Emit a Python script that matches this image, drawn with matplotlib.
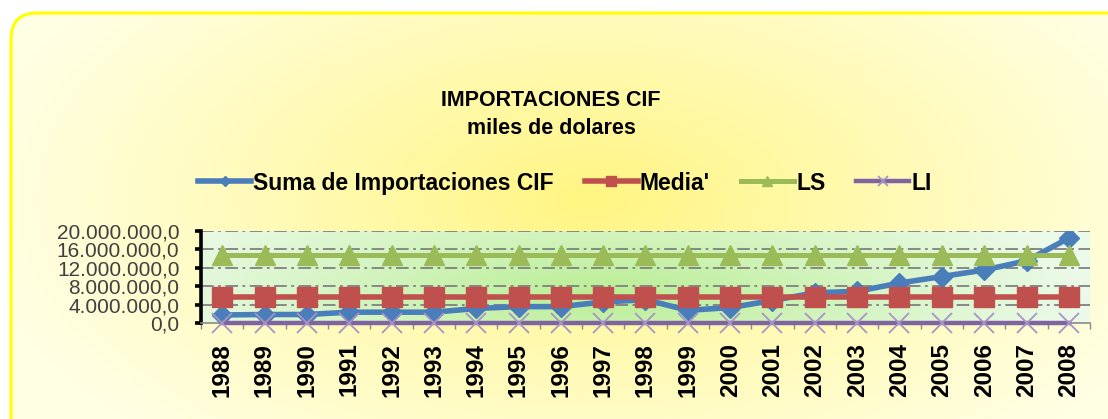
import numpy as np
import matplotlib.pyplot as plt
from matplotlib.patches import FancyBboxPatch
from matplotlib.ticker import FuncFormatter, MultipleLocator

# data (miles de dolares)
years = [str(y) for y in range(1988, 2009)]
importaciones = [1800000, 1900000, 1900000, 2400000, 2400000, 2400000, 3200000,
                 3600000, 3600000, 4600000, 5100000, 2800000, 3400000, 4900000,
                 6600000, 6900000, 8700000, 10100000, 11500000, 13500000, 18400000]
media = [5750000] * 21
ls = [14800000] * 21
li = [0] * 21

W, H = 1108, 419
plt.rcParams['font.family'] = ['Liberation Sans', 'DejaVu Sans']

fig = plt.figure(figsize=(W / 100, H / 100), dpi=100)
fig.patch.set_facecolor('white')

# outer chart area: rounded box with radial yellow gradient
bg = fig.add_axes([0, 0, 1, 1])
bg.set_xlim(0, W)
bg.set_ylim(H, 0)
bg.axis('off')
yy, xx = np.mgrid[0:H, 0:W]
r = np.sqrt(((xx - 590) / 620.0) ** 2 + ((yy - 200) / 330.0) ** 2)
r = np.clip(r, 0, 1) ** 0.9
c0 = np.array([255, 245, 128]) / 255.0
c1 = np.array([255, 255, 228]) / 255.0
img = c0[None, None, :] * (1 - r[..., None]) + c1[None, None, :] * r[..., None]
box = FancyBboxPatch((11, 13), W + 40, H + 40, boxstyle='round,pad=0,rounding_size=26',
                     facecolor='none', edgecolor='#ffff00', linewidth=2.2, zorder=3)
bg.add_patch(box)
im = bg.imshow(img, extent=(0, W, H, 0), zorder=1, aspect='auto')
im.set_clip_path(box)

# title
fig.text(551 / W, 1 - 101 / H, 'IMPORTACIONES CIF', ha='center', va='center',
         fontsize=15.5, fontweight='bold', color='black')
fig.text(551 / W, 1 - 128 / H, 'miles de dolares', ha='center', va='center',
         fontsize=15.5, fontweight='bold', color='black')

# plot area
x0, x1, y0, y1 = 201, 1090, 230.7, 323.3
ax = fig.add_axes([x0 / W, 1 - y1 / H, (x1 - x0) / W, (y1 - y0) / H])
ax.set_facecolor('none')
ax.patch.set_alpha(0)

xs = np.arange(len(years))
ax.set_xlim(-0.5, len(years) - 0.5)
ax.set_ylim(0, 20000000)

# plot-area green gradient
gy, gx = np.mgrid[0:60, 0:300]
g = np.sqrt(((gx - 135) / 165.0) ** 2 + ((gy - 40) / 80.0) ** 2)
g = np.clip(g, 0, 1)
ga = np.array([186, 238, 148]) / 255.0
gb = np.array([236, 250, 234]) / 255.0
gimg = ga[None, None, :] * (1 - g[..., None]) + gb[None, None, :] * g[..., None]
ax.imshow(gimg, extent=(-0.5, len(years) - 0.5, 0, 20000000), aspect='auto', zorder=0)

for v in range(4000000, 20000001, 4000000):
    ax.axhline(v, color='#808080', lw=1.3, dashes=(7, 2.5, 1.5, 2.5), zorder=1)

ax.plot(xs, importaciones, color='#4a7ebb', lw=4, marker='D', ms=10.5,
        mfc='#4a7ebb', mec='#4a7ebb', zorder=3, label='Suma de Importaciones CIF')
ax.plot(xs, media, color='#c0504d', lw=4, marker='s', ms=15,
        mfc='#c0504d', mec='#c0504d', zorder=4, label="Media'")
ax.plot(xs, ls, color='#9bbb59', lw=3.6, marker='^', ms=15,
        mfc='#9bbb59', mec='#9bbb59', zorder=5, label='LS')
ax.plot(xs, li, color='#8064a2', lw=3.2, marker='x', ms=14, mew=1.3,
        mec='#a894c4', zorder=6, label='LI', clip_on=False)

for side in ['top', 'right']:
    ax.spines[side].set_visible(False)
ax.spines['left'].set_color('black')
ax.spines['left'].set_linewidth(2.6)
ax.spines['bottom'].set_color('#8a8a8a')
ax.spines['bottom'].set_linewidth(1.2)

ax.yaxis.set_major_locator(MultipleLocator(4000000))
ax.yaxis.set_major_formatter(FuncFormatter(
    lambda v, p: f'{v:,.1f}'.replace(',', 'X').replace('.', ',').replace('X', '.')))
ax.tick_params(axis='y', direction='out', length=4.5, width=2.6, color='black',
               labelsize=15, labelcolor='#404040', pad=11)

ax.set_xticks(xs)
ax.set_xticklabels(years, rotation=90, fontsize=17.5, fontweight='bold')
ax.set_xticks(np.arange(-0.5, len(years)), minor=True)
ax.tick_params(axis='x', which='major', length=0, pad=14)
ax.tick_params(axis='x', which='minor', direction='out', length=4, width=1, color='#8a8a8a')

handles, labels = ax.get_legend_handles_labels()
leg = fig.legend(handles, labels, loc='center', ncol=4,
                 bbox_to_anchor=(565 / W, 1 - 183 / H), frameon=False,
                 prop={'size': 16.5, 'weight': 'bold'}, markerscale=0.5,
                 handlelength=2.3, handletextpad=0.1, columnspacing=1.35)

fig.savefig('out.png', dpi=100)
